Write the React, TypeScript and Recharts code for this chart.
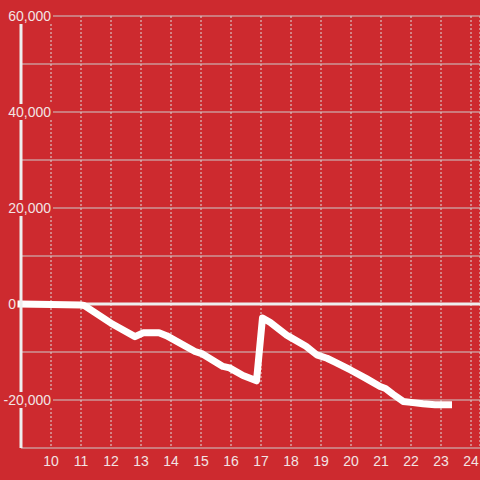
import { LineChart, Line, XAxis, YAxis, CartesianGrid, ReferenceLine } from 'recharts';

const hours = [
  9, 10, 11, 11.1, 12, 12.8, 13.07, 13.6, 13.85, 14.8, 15.05, 15.73, 15.95, 16.4, 16.85,
  17.05, 17.3, 17.86, 18.0, 18.5, 18.86, 19.2, 19.5, 20.0, 20.5, 20.97, 21.15, 21.4, 21.74,
  22.0, 22.4, 22.8, 23.25,
];
const balance = [
  0, -100, -200, -300, -4000, -6800, -6000, -6000, -6600, -9900, -10400, -13000, -13300,
  -14900, -16000, -2900, -3800, -6500, -7000, -8800, -10600, -11300, -12200, -13800, -15500,
  -17200, -17600, -18800, -20300, -20500, -20800, -21000, -21000,
];
const hourTicks = [10, 11, 12, 13, 14, 15, 16, 17, 18, 19, 20, 21, 22, 23, 24];
const valueTicks = [-30000, -20000, -10000, 0, 10000, 20000, 30000, 40000, 50000, 60000];
const labelledValues = [60000, 40000, 20000, 0, -20000];

const data = hours.map((hour, i) => ({ hour, value: balance[i] }));

const BG = '#cd2a2f';
const TEXT = '#f2e4e4';
const FONT = '"Liberation Sans", Arial, sans-serif';

const YTick = (props: any) => {
  const { y, payload } = props;
  if (!labelledValues.includes(payload.value)) return <g />;
  const label = payload.value.toLocaleString('en-US');
  const long = label.length > 2;
  const right = long ? 51 : 16;
  return (
    <g>
      {long && <rect x={0} y={y - 8} width={53} height={16} fill={BG} />}
      <text x={right} y={y + 5} textAnchor="end" fill={TEXT} fontSize={14} fontFamily={FONT}>
        {label}
      </text>
    </g>
  );
};

const XTick = (props: any) => {
  const { x, y, payload } = props;
  return (
    <text x={x} y={y + 18} textAnchor="middle" fill={TEXT} fontSize={14} fontFamily={FONT}>
      {payload.value}
    </text>
  );
};

const App = () => {
  return (
    <div style={{ position: 'absolute', left: 0, top: 0, width: 480, height: 480, background: BG }}>
      <LineChart width={480} height={480} data={data} margin={{ top: 16, right: 0, bottom: 0, left: 0 }}>
        <CartesianGrid horizontal={false} stroke="#dddddd" strokeDasharray="2 2" />
        <CartesianGrid vertical={false} stroke="#cccccc" />
        <ReferenceLine y={0} stroke="#eeeeee" strokeWidth={3} />
        <XAxis
          dataKey="hour"
          type="number"
          domain={[9, 24.3]}
          ticks={hourTicks}
          axisLine={false}
          tickLine={false}
          tickSize={0}
          tickMargin={0}
          height={32}
          tick={<XTick />}
          interval={0}
        />
        <YAxis
          type="number"
          domain={[-30000, 60000]}
          ticks={valueTicks}
          width={21}
          axisLine={{ stroke: '#eeeeee', strokeWidth: 3 }}
          tickLine={false}
          tick={<YTick />}
          interval={0}
        />
        <Line
          type="linear"
          dataKey="value"
          stroke="#ffffff"
          strokeWidth={7}
          strokeLinecap="square"
          strokeLinejoin="round"
          dot={false}
          activeDot={false}
          isAnimationActive={false}
        />
      </LineChart>
    </div>
  );
};

export default App;
